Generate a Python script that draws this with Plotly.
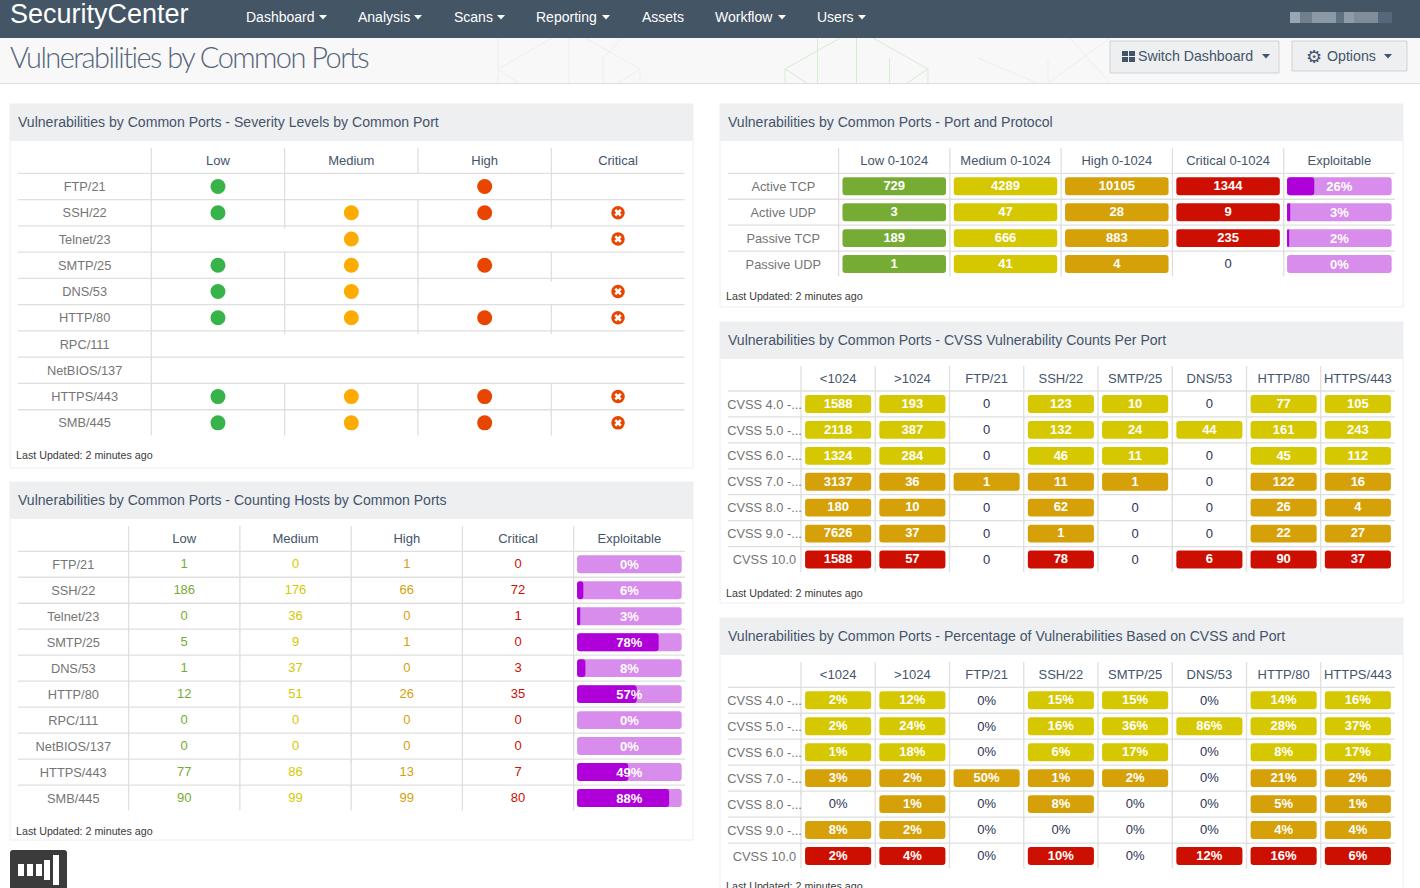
import plotly.graph_objects as go

W, H = 1420, 888
FONT = "Liberation Sans"

# ---- data -------------------------------------------------------------
ports = ["FTP/21", "SSH/22", "Telnet/23", "SMTP/25", "DNS/53", "HTTP/80", "RPC/111",
         "NetBIOS/137", "HTTPS/443", "SMB/445"]
severity_cols = ["Low", "Medium", "High", "Critical"]
sev_low = [1, 1, 0, 1, 1, 1, 0, 0, 1, 1]
sev_medium = [0, 1, 1, 1, 1, 1, 0, 0, 1, 1]
sev_high = [1, 1, 0, 1, 0, 1, 0, 0, 1, 1]
sev_critical = [0, 1, 1, 0, 1, 1, 0, 0, 1, 1]

hosts_cols = ["Low", "Medium", "High", "Critical", "Exploitable"]
hosts_low = [1, 186, 0, 5, 1, 12, 0, 0, 77, 90]
hosts_medium = [0, 176, 36, 9, 37, 51, 0, 0, 86, 99]
hosts_high = [1, 66, 0, 1, 0, 26, 0, 0, 13, 99]
hosts_critical = [0, 72, 1, 0, 3, 35, 0, 0, 7, 80]
hosts_exploitable = [0, 6, 3, 78, 8, 57, 0, 0, 49, 88]

proto_rows = ["Active TCP", "Active UDP", "Passive TCP", "Passive UDP"]
proto_cols = ["Low 0-1024", "Medium 0-1024", "High 0-1024", "Critical 0-1024", "Exploitable"]
proto_low = [729, 3, 189, 1]
proto_medium = [4289, 47, 666, 41]
proto_high = [10105, 28, 883, 4]
proto_critical = [1344, 9, 235, 0]
proto_exploitable = [26, 3, 2, 0]

cvss_rows = ["CVSS 4.0 -...", "CVSS 5.0 -...", "CVSS 6.0 -...", "CVSS 7.0 -...",
             "CVSS 8.0 -...", "CVSS 9.0 -...", "CVSS 10.0"]
cvss_cols = ["<1024", ">1024", "FTP/21", "SSH/22", "SMTP/25", "DNS/53", "HTTP/80", "HTTPS/443"]
count_lt1024 = [1588, 2118, 1324, 3137, 180, 7626, 1588]
count_gt1024 = [193, 387, 284, 36, 10, 37, 57]
count_ftp = [0, 0, 0, 1, 0, 0, 0]
count_ssh = [123, 132, 46, 11, 62, 1, 78]
count_smtp = [10, 24, 11, 1, 0, 0, 0]
count_dns = [0, 44, 0, 0, 0, 0, 6]
count_http = [77, 161, 45, 122, 26, 22, 90]
count_https = [105, 243, 112, 16, 4, 27, 37]

pct_lt1024 = [2, 2, 1, 3, 0, 8, 2]
pct_gt1024 = [12, 24, 18, 2, 1, 2, 4]
pct_ftp = [0, 0, 0, 50, 0, 0, 0]
pct_ssh = [15, 16, 6, 1, 8, 0, 10]
pct_smtp = [15, 36, 17, 2, 0, 0, 0]
pct_dns = [0, 86, 0, 0, 0, 0, 12]
pct_http = [14, 28, 8, 21, 5, 4, 16]
pct_https = [16, 37, 17, 2, 1, 4, 6]

# ---- styles -----------------------------------------------------------
GREEN, YELLOW, ORANGE, RED = "#77ac34", "#d6c800", "#d6a008", "#cc0f00"
PURPLE, LILAC = "#b000d9", "#d88cec"
GRID = "#dfdfdf"
HEAD = "#44546a"
LABEL = "#757575"
INK = "#2b3155"
NAV = "#445566"

fig = go.Figure()
shapes, annos = [], []


def px(x):
    return x / W


def py(y):
    return 1 - y / H


def rect(x0, y0, x1, y1, fill, line=None, lw=1):
    shapes.append(dict(type="rect", xref="paper", yref="paper", x0=px(x0), x1=px(x1), y0=py(y0), y1=py(y1),
                       fillcolor=fill, line=dict(color=line or fill, width=lw if line else 0), layer="below"))


def seg(x0, y0, x1, y1, color):
    shapes.append(dict(type="line", xref="paper", yref="paper", x0=px(x0), x1=px(x1), y0=py(y0), y1=py(y1),
                       line=dict(color=color, width=1), layer="below"))


def caret(cx, cy, color, s=4):
    path = f"M {px(cx-s)} {py(cy-2)} L {px(cx+s)} {py(cy-2)} L {px(cx)} {py(cy+2.5)} Z"
    shapes.append(dict(type="path", xref="paper", yref="paper", path=path, fillcolor=color, line=dict(width=0)))


def label(x, y, text, size=13, color=HEAD, anchor="left", family=FONT, weight=None):
    font = dict(family=family, size=size, color=color)
    if weight:
        font["weight"] = weight
    annos.append(dict(xref="paper", yref="paper", x=px(x), y=py(y), text=text, showarrow=False, xanchor=anchor,
                      yanchor="middle", font=font, borderpad=0, borderwidth=0))


def panel(x0, y0, x1, y1, head_bottom, title):
    rect(x0, y0, x1, y1, "#ffffff", "#eeeeee")
    rect(x0, y0, x1, head_bottom, "#eeeff1")
    label(x0 + 8, (y0 + head_bottom) / 2 - 0.8, title, 14.07, HEAD)


def texts(xa, ya, xs, ys, txt, color, size=13, weight=None):
    f = dict(family=FONT, size=size, color=color)
    if weight:
        f["weight"] = weight
    fig.add_trace(go.Scatter(x=xs, y=ys, xaxis=xa, yaxis=ya, mode="text", text=txt, textposition="middle center",
                             textfont=f, hoverinfo="skip", showlegend=False, cliponaxis=False))


def table(k, rows, cols, left, label_right, right, top, head_line, bottom, empty_flags=None):
    """Create the axes of one table, draw its grid lines and titles through them."""
    n, m = len(cols), len(rows)
    w = (right - label_right) / n
    rh = (bottom - head_line) / m
    head_rows = (head_line - top) / rh
    xname, yname = f"xaxis{k}", f"yaxis{k}"
    fig.layout[xname] = dict(domain=[px(left), px(right)], range=[-0.5 - (label_right - left) / w, n - 0.5],
                             visible=False, fixedrange=True, anchor=f"y{k}")
    fig.layout[yname] = dict(domain=[py(bottom), py(top)], range=[m - 0.5, -0.5 - head_rows],
                             visible=False, fixedrange=True, anchor=f"x{k}")
    xa, ya = f"x{k}", f"y{k}"
    xleft = -0.5 - (label_right - left) / w
    hx, hy = [], []
    for r in range(0, m):
        hx += [xleft, n - 0.5, None]
        hy += [r - 0.5, r - 0.5, None]
    vx, vy = [], []
    stub = 3.0 / rh
    for c in range(-1, n - 1):
        vx += [c + 0.5, c + 0.5, None]
        vy += [-0.5 - head_rows, -0.5, None]
        for r in range(m):
            if c == -1 or empty_flags is None or empty_flags[c][r]:
                vx += [c + 0.5, c + 0.5, None]
                vy += [r - 0.5, r + 0.5 + (stub if r < m - 1 else -0.02), None]
    for xs, ys in ((hx, hy), (vx, vy)):
        fig.add_trace(go.Scatter(x=xs, y=ys, xaxis=xa, yaxis=ya, mode="lines", hoverinfo="skip",
                                 line=dict(color=GRID, width=1.3), showlegend=False))
    lab_x = (xleft - 0.5) / 2
    texts(xa, ya, [lab_x] * m, [r + 0.055 for r in range(m)], rows, LABEL, 12.8)
    texts(xa, ya, list(range(n)), [-0.5 - head_rows / 2 + 0.04] * n, cols, HEAD, 13)
    return xa, ya


def pills(xa, ya, rows_idx, lengths, bases, color, h, radius=3):
    if not rows_idx:
        return
    fig.add_trace(go.Bar(orientation="h", x=lengths, y=rows_idx, base=bases, width=h, xaxis=xa, yaxis=ya,
                         marker=dict(color=color, cornerradius=radius, line=dict(width=0)),
                         hoverinfo="skip", showlegend=False))


def value_cells(xa, ya, col, values, colors, frac, h, fmt="{}"):
    """values: one column; colors: one colour per row"""
    groups = {}
    for r, v in enumerate(values):
        if v:
            groups.setdefault(colors[r], []).append(r)
    for color, rs in groups.items():
        pills(xa, ya, rs, [frac] * len(rs), [col - frac / 2] * len(rs), color, h)
    on = [r for r, v in enumerate(values) if v]
    off = [r for r, v in enumerate(values) if not v]
    if on:
        texts(xa, ya, [col] * len(on), [r + 0.02 for r in on], [fmt.format(values[r]) for r in on], "#ffffff", 13, 700)
    if off:
        texts(xa, ya, [col] * len(off), [r + 0.04 for r in off], [fmt.format(values[r]) for r in off], INK, 13)


def exploit_cells(xa, ya, col, values, frac, h):
    rs = list(range(len(values)))
    pills(xa, ya, rs, [frac] * len(rs), [col - frac / 2] * len(rs), LILAC, h)
    on = [r for r in rs if values[r]]
    pills(xa, ya, on, [values[r] / 100 * frac for r in on], [col - frac / 2] * len(on), PURPLE, h)
    texts(xa, ya, [col] * len(rs), [r + 0.055 for r in rs], [f"{v}%" for v in values], "#ffffff", 13, 700)


# ---- page chrome ------------------------------------------------------
rect(0, 0, W, H, "#ffffff")
rect(0, 38, W, 83, "#f8f8f8")
seg(0, 83.5, W, 83.5, "#dddddd")

grey, pale = "#eeeeee", "#d6edd3"
for p in [(498, 69, 552, 38), (585, 38, 640, 69), (498, 69, 519, 83), (640, 69, 618, 83), (498, 38, 498, 83),
          (569, 38, 569, 83), (603, 58, 603, 83), (640, 69, 640, 83), (603, 58, 622, 38),
          (978, 58, 1037, 83), (1110, 38, 1048, 83), (1070, 38, 1110, 83), (1048, 60, 1048, 83)]:
    seg(*p, grey)
for p in [(785, 69, 840, 38), (873, 38, 928, 69), (785, 69, 807, 83), (928, 69, 907, 83), (785, 69, 785, 83),
          (817.5, 38, 817.5, 83), (856.5, 38, 856.5, 83), (889.5, 58, 889.5, 83), (928, 69, 928, 83)]:
    seg(*p, pale)

rect(0, 0, W, 38, NAV)
label(9.5, 14.5, "SecurityCenter", 27, "#ffffff")
for x, name, cx in [(246, "Dashboard", 323), (358, "Analysis", 418), (454, "Scans", 501), (536, "Reporting", 606),
                    (642, "Assets", None), (715, "Workflow", 782), (817, "Users", 862)]:
    label(x, 17.5, name, 14, "#ffffff")
    if cx:
        caret(cx, 17, "#ffffff")
for x0, x1, c in [(1290, 1300, "#9aa6b2"), (1300, 1312, "#6f7f8e"), (1312, 1336, "#8b98a5"), (1336, 1344, "#5f7080"),
                  (1344, 1354, "#8f9ca8"), (1354, 1378, "#7f8d9a"), (1378, 1392, "#55677a")]:
    rect(x0, 12, x1, 23, c)

for x0, y0, x1, y1 in [(1110, 41, 1279, 73), (1292, 41, 1407, 71)]:
    rect(x0, y0, x1, y1, "#eeeff1", "#cfd2d6")
for x0, y0 in [(1122, 51), (1129, 51), (1122, 57), (1129, 57)]:
    rect(x0, y0, x0 + 6, y0 + 5, HEAD)
label(1138, 56, "Switch Dashboard", 14.2, HEAD)
label(1313.5, 56, "⚙", 18, HEAD, "center", "DejaVu Sans")
label(1327, 56, "Options", 14.2, HEAD)
caret(1266, 56, HEAD)
caret(1388, 56, HEAD)
label(10, 56, "Vulnerabilities by Common Ports", 29, "#55657a", family="Lato", weight=300)

panel(10, 104, 693, 468, 141, "Vulnerabilities by Common Ports - Severity Levels by Common Port")
panel(10, 482, 693, 840, 519, "Vulnerabilities by Common Ports - Counting Hosts by Common Ports")
panel(720, 104, 1403, 307, 141, "Vulnerabilities by Common Ports - Port and Protocol")
panel(720, 322, 1403, 603, 359, "Vulnerabilities by Common Ports - CVSS Vulnerability Counts Per Port")
panel(720, 618, 1403, 900, 655, "Vulnerabilities by Common Ports - Percentage of Vulnerabilities Based on CVSS and Port")
for x, y in [(16, 455.5), (16, 830.5), (726, 296.5), (726, 592.5), (726, 885.5)]:
    label(x, y, "Last Updated: 2 minutes ago", 10.7, "#3a3a3a")

# widget bottom left
shapes.append(dict(type="path", xref="paper", yref="paper", fillcolor="#3b3b3b", line=dict(width=0), layer="above",
                   path=f"M {px(10)} {py(888)} L {px(10)} {py(853)} Q {px(10)} {py(850)} {px(13)} {py(850)} "
                        f"L {px(64)} {py(850)} Q {px(67)} {py(850)} {px(67)} {py(853)} L {px(67)} {py(888)} Z"))
for x0, y0, x1, y1 in [(18, 864, 24, 876), (27, 864, 33, 876), (36, 864, 42, 876), (44, 860, 50, 880), (53, 855, 59, 885)]:
    shapes.append(dict(type="rect", xref="paper", yref="paper", x0=px(x0), x1=px(x1), y0=py(y0), y1=py(y1),
                       fillcolor="#ffffff", line=dict(width=0), layer="above"))

# ---- table 1: severity dots -------------------------------------------
sev_columns = [sev_low, sev_medium, sev_high, sev_critical]
xa, ya = table(1, ports, severity_cols, 18, 151.3, 684.7, 148, 173.3, 436, empty_flags=sev_columns)
for c, (vals, color) in enumerate(zip(sev_columns, ["#37b34a", "#fdab00", "#e84600", "#e84600"])):
    rs = [r for r, v in enumerate(vals) if v]
    size = 13.5 if c == 3 else 15
    fig.add_trace(go.Scatter(x=[c] * len(rs), y=rs, xaxis=xa, yaxis=ya, mode="markers", hoverinfo="skip", showlegend=False,
                             marker=dict(symbol="circle", size=size, color=color, line=dict(width=0))))
    if c == 3:
        fig.add_trace(go.Scatter(x=[c] * len(rs), y=rs, xaxis=xa, yaxis=ya, mode="markers", hoverinfo="skip", showlegend=False,
                                 marker=dict(symbol="x", size=6.5, color="#ffffff", line=dict(width=0))))

# ---- table 2: hosts ---------------------------------------------------
xa, ya = table(2, ports, hosts_cols, 18, 128.6, 685, 526, 551.3, 811)
for c, (vals, color) in enumerate(zip([hosts_low, hosts_medium, hosts_high, hosts_critical], [GREEN, YELLOW, ORANGE, RED])):
    texts(xa, ya, [c] * len(vals), [r + 0.01 for r in range(len(vals))], [str(v) for v in vals], color, 13)
exploit_cells(xa, ya, 4, hosts_exploitable, 0.94, 0.69)

# ---- table 3: port and protocol ---------------------------------------
xa, ya = table(3, proto_rows, proto_cols, 728, 838.6, 1395, 148, 173.3, 277)
for c, (vals, color) in enumerate(zip([proto_low, proto_medium, proto_high, proto_critical], [GREEN, YELLOW, ORANGE, RED])):
    value_cells(xa, ya, c, vals, [color] * len(vals), 0.93, 0.69)
exploit_cells(xa, ya, 4, proto_exploitable, 0.94, 0.69)

# ---- tables 4, 5: CVSS counts and percentages --------------------------
row_colors = [YELLOW, YELLOW, YELLOW, ORANGE, ORANGE, ORANGE, RED]
xa, ya = table(4, cvss_rows, cvss_cols, 728, 801, 1395, 366, 391, 572.5)
for c, vals in enumerate([count_lt1024, count_gt1024, count_ftp, count_ssh, count_smtp, count_dns, count_http, count_https]):
    value_cells(xa, ya, c, vals, row_colors, 0.89, 0.69)
xa, ya = table(5, cvss_rows, cvss_cols, 728, 801, 1395, 662, 687.3, 869)
for c, vals in enumerate([pct_lt1024, pct_gt1024, pct_ftp, pct_ssh, pct_smtp, pct_dns, pct_http, pct_https]):
    value_cells(xa, ya, c, vals, row_colors, 0.89, 0.69, "{}%")

fig.update_layout(width=W, height=H, margin=dict(l=0, r=0, t=0, b=0), paper_bgcolor="#ffffff", plot_bgcolor="rgba(0,0,0,0)",
                  barmode="overlay", showlegend=False, shapes=shapes, annotations=annos,
                  xaxis=dict(visible=False), yaxis=dict(visible=False))
page_js = """
document.body.style.margin='0';
document.documentElement.style.overflow='hidden';
document.querySelectorAll('.annotation-text').forEach(function(t){
  if (t.textContent === 'Vulnerabilities by Common Ports') {
    var b0 = t.getBBox().x;
    t.style.letterSpacing = '-1.55px';
    var b1 = t.getBBox().x;
    t.setAttribute('x', parseFloat(t.getAttribute('x')) + b0 - b1);
  }
});
"""
fig.write_html("out.html", config=dict(displayModeBar=False), post_script=page_js)
